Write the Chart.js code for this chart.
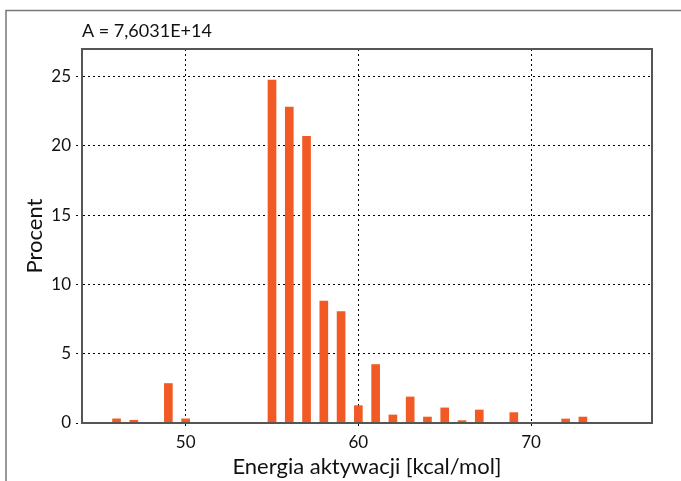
<!DOCTYPE html>
<html>
<head>
<meta charset="utf-8">
<script src="https://cdn.jsdelivr.net/npm/chart.js@4/dist/chart.umd.min.js"></script>
<style>
    html, body { margin: 0; padding: 0; background: #fff; }
    #wrap { width: 681px; height: 481px; }
</style>
</head>
<body>
<div id="wrap"><canvas id="chart" width="681" height="481"></canvas></div>
<script>
// ============================================================================
// Daten
// ============================================================================
const energie = [46, 47, 49, 50, 55, 56, 57, 58, 59, 60, 61, 62, 63, 64, 65, 66, 67, 69, 72, 73];
const procent = [0.3, 0.2, 2.85, 0.3, 24.75, 22.8, 20.7, 8.8, 8.05, 1.25, 4.22, 0.58, 1.88, 0.43, 1.09, 0.17, 0.94, 0.75, 0.29, 0.43];
const xTicks = [50, 60, 70];
const yTicks = [0, 5, 10, 15, 20, 25];
const tytul = "A = 7,6031E+14";

const FONT = "Lato, 'Open Sans', sans-serif";

// ============================================================================
// Plugin: Rahmen + Text oben
// ============================================================================
const ramkaPlugin = {
    id: "ramka",
    afterDraw(chart) {
        const ctx = chart.ctx;
        const a = chart.chartArea;
        ctx.save();
        // äußerer Rahmen (abgeschnitten)
        ctx.strokeStyle = "#777";
        ctx.lineWidth = 1.5;
        ctx.beginPath();
        ctx.moveTo(6, 490);
        ctx.lineTo(6, 10.5);
        ctx.lineTo(690, 10.5);
        ctx.stroke();
        // Rahmen Plotbereich
        ctx.strokeStyle = "#555";
        ctx.lineWidth = 2;
        ctx.strokeRect(a.left, a.top, a.right - a.left, a.bottom - a.top);
        // Text
        ctx.fillStyle = "#111";
        ctx.font = "18px " + FONT;
        ctx.textBaseline = "alphabetic";
        ctx.textAlign = "left";
        ctx.fillText(tytul, a.left, 37);
        ctx.restore();
    }
};

// ============================================================================
// Chart
// ============================================================================
new Chart(document.getElementById("chart"), {
    type: "bar",
    data: {
        datasets: [{
            data: energie.map((e, i) => ({ x: e, y: procent[i] })),
            backgroundColor: "#f15a24",
            borderWidth: 0,
            barThickness: 8
        }]
    },
    options: {
        responsive: false,
        animation: false,
        layout: { padding: { left: 20, right: 29, top: 49, bottom: 0 } },
        plugins: {
            legend: { display: false },
            tooltip: { enabled: false }
        },
        scales: {
            x: {
                type: "linear",
                min: 44,
                max: 77,
                offset: false,
                afterBuildTicks: s => { s.ticks = xTicks.map(v => ({ value: v })); },
                afterFit: s => { s.height = 58; },
                grid: { offset: false, color: "#000", lineWidth: 1, tickLength: 6, tickBorderDash: [2, 3] },
                border: { color: "#555", width: 2, dash: [2, 3] },
                ticks: { color: "#111", font: { family: FONT, size: 17 }, padding: 3, maxRotation: 0 },
                title: {
                    display: true,
                    text: "Energia aktywacji [kcal/mol]",
                    color: "#111",
                    font: { family: FONT, size: 22 },
                    padding: { top: 0, bottom: 1 }
                }
            },
            y: {
                min: 0,
                max: 27,
                afterBuildTicks: s => { s.ticks = yTicks.map(v => ({ value: v })); },
                afterFit: s => { s.width = 62; },
                grid: { color: "#000", lineWidth: 1, tickLength: 6, tickBorderDash: [2, 3] },
                border: { color: "#555", width: 2, dash: [2, 3] },
                ticks: { color: "#111", font: { family: FONT, size: 17 }, padding: 5 },
                title: {
                    display: true,
                    text: "Procent",
                    color: "#111",
                    font: { family: FONT, size: 22 },
                    padding: { top: 2, bottom: 0 }
                }
            }
        }
    },
    plugins: [ramkaPlugin]
});
</script>
</body>
</html>
